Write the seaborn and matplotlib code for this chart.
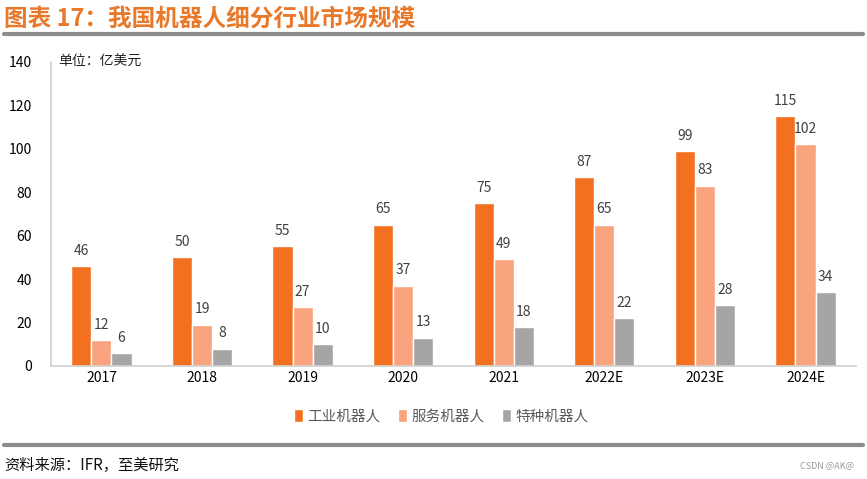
import pandas as pd
import matplotlib
matplotlib.use('Agg')
import matplotlib.pyplot as plt
import seaborn as sns

years = ['2017', '2018', '2019', '2020', '2021', '2022E', '2023E', '2024E']
industrial = [46, 50, 55, 65, 75, 87, 99, 115]
service = [12, 19, 27, 37, 49, 65, 83, 102]
special = [6, 8, 10, 13, 18, 22, 28, 34]
series_names = ['工业机器人', '服务机器人', '特种机器人']
colors = ['#F37021', '#F9A47E', '#A5A5A5']

df = pd.DataFrame({
    'year': years * 3,
    'value': industrial + service + special,
    'type': [series_names[0]] * 8 + [series_names[1]] * 8 + [series_names[2]] * 8,
})

sns.set_style('white')
plt.rcParams['font.family'] = ['Noto Sans CJK SC', 'DejaVu Sans']

fig = plt.figure(figsize=(8.67, 4.79), dpi=100)
ax = fig.add_axes([0.059, 0.236, 0.928, 0.635])

sns.barplot(data=df, x='year', y='value', hue='type', palette=colors,
            width=0.6, saturation=1, ax=ax, legend=True)

for cont in ax.containers:
    ax.bar_label(cont, padding=6, fontsize=10, color='#404040')

ax.set_ylim(0, 140)
ax.set_yticks(range(0, 141, 20))
ax.set_xlim(-0.5, 7.5)
ax.set_xlabel('')
ax.set_ylabel('')
ax.tick_params(axis='both', length=0, labelsize=10, colors='black')
ax.tick_params(axis='y', pad=14)
for s in ['top', 'right']:
    ax.spines[s].set_visible(False)
for s in ['left', 'bottom']:
    ax.spines[s].set_color('#D0D0D0')
    ax.spines[s].set_linewidth(1.2)

ax.text(0.009, 1.0, '单位：亿美元', transform=ax.transAxes, fontsize=10,
        va='center', ha='left', color='#222222')

ax.legend(loc='upper center', bbox_to_anchor=(0.485, -0.1), ncol=3, frameon=False,
          fontsize=10.5, handlelength=0.6, handleheight=0.9, handletextpad=0.3,
          columnspacing=1.2, labelcolor='#595959')

fig.text(0.005, 0.962, '图表 17：我国机器人细分行业市场规模', fontsize=17, fontweight='bold',
         color='#E8782A', va='center', ha='left')
fig.add_artist(plt.Line2D([0.005, 0.995], [0.93, 0.93], color='#8C8C8C', lw=3))
fig.add_artist(plt.Line2D([0.005, 0.995], [0.071, 0.071], color='#8C8C8C', lw=3))
fig.text(0.005, 0.028, '资料来源：IFR，至美研究', fontsize=11, style='italic',
         color='#111111', va='center', ha='left')
fig.text(0.985, 0.028, 'CSDN @AK@', fontsize=6.5, color='#9A9A9A', va='center', ha='right')

fig.savefig('out.png', dpi=100)
